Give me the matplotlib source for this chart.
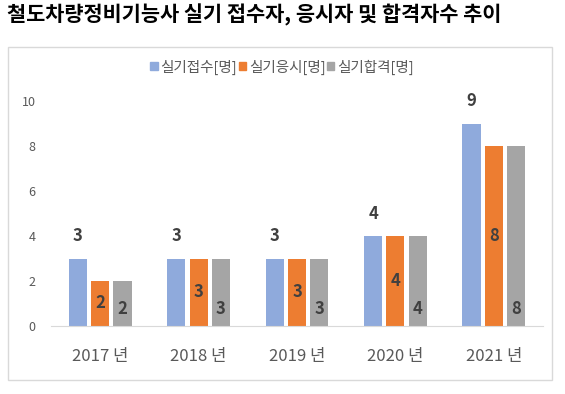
import numpy as np
import matplotlib
matplotlib.use("Agg")
import matplotlib.pyplot as plt
from matplotlib.patches import Patch, Rectangle

plt.rcParams['font.family'] = ['Noto Sans CJK KR', 'DejaVu Sans']

title = "철도차량정비기능사 실기 접수자, 응시자 및 합격자수 추이"
years = ['2017 년', '2018 년', '2019 년', '2020 년', '2021 년']
series_names = ['실기접수[명]', '실기응시[명]', '실기합격[명]']
applied = [3, 3, 3, 4, 9]
taken = [2, 3, 3, 4, 8]
passed = [2, 3, 3, 4, 8]

colors = ['#8FAADC', '#ED7D31', '#A5A5A5']
label_color = '#404040'
text_gray = '#595959'

fig = plt.figure(figsize=(5.65, 3.94), dpi=100)
ax = fig.add_axes([51/565, 1-326/394, 492/565, 225/394])

# chart frame
fig.patches.append(Rectangle((8/565, 1-380/394), 544/565, 333/394,
                             transform=fig.transFigure, fill=False,
                             edgecolor='#D9D9D9', linewidth=1))

ind = np.arange(len(years))
pitch = 0.2266
width = 0.183
data = [applied, taken, passed]

for i in range(3):
    ax.bar(ind + (i-1)*pitch, data[i], width, color=colors[i], label=series_names[i])

# value labels: outside end / center / inside base
for j in range(len(years)):
    ax.annotate(str(applied[j]), (ind[j]-pitch, applied[j]), xytext=(0, 16),
                textcoords='offset points', ha='center', va='center',
                fontsize=12, fontweight='bold', color=label_color)
    ax.text(ind[j], taken[j]/2, str(taken[j]), ha='center', va='center',
            fontsize=12, fontweight='bold', color=label_color)
    ax.annotate(str(passed[j]), (ind[j]+pitch, 0), xytext=(0, 12),
                textcoords='offset points', ha='center', va='center',
                fontsize=12, fontweight='bold', color=label_color)

ax.set_xlim(-0.5, len(years)-0.5)
ax.set_ylim(0, 10)
ax.set_yticks([0, 2, 4, 6, 8, 10])
ax.set_xticks(ind)
ax.set_xticklabels(years)
ax.tick_params(axis='y', length=0, pad=11, labelsize=9, labelcolor=text_gray)
ax.tick_params(axis='x', length=0, pad=16, labelsize=12, labelcolor=text_gray)
for s in ['top', 'right', 'left']:
    ax.spines[s].set_visible(False)
ax.spines['bottom'].set_color('#D9D9D9')
ax.set_facecolor('none')

handles = [Patch(color=c) for c in colors]
fig.legend(handles, series_names, loc='center', bbox_to_anchor=(282/565, 1-67/394),
           ncol=3, frameon=False, fontsize=10.5, labelcolor=text_gray,
           handlelength=0.5, handleheight=0.5, handletextpad=0.2, columnspacing=0.1)

fig.text(7/565, 1-15/394, title, ha='left', va='center', fontsize=15,
         fontweight='bold', color='black')

fig.savefig('out.png', dpi=100)
